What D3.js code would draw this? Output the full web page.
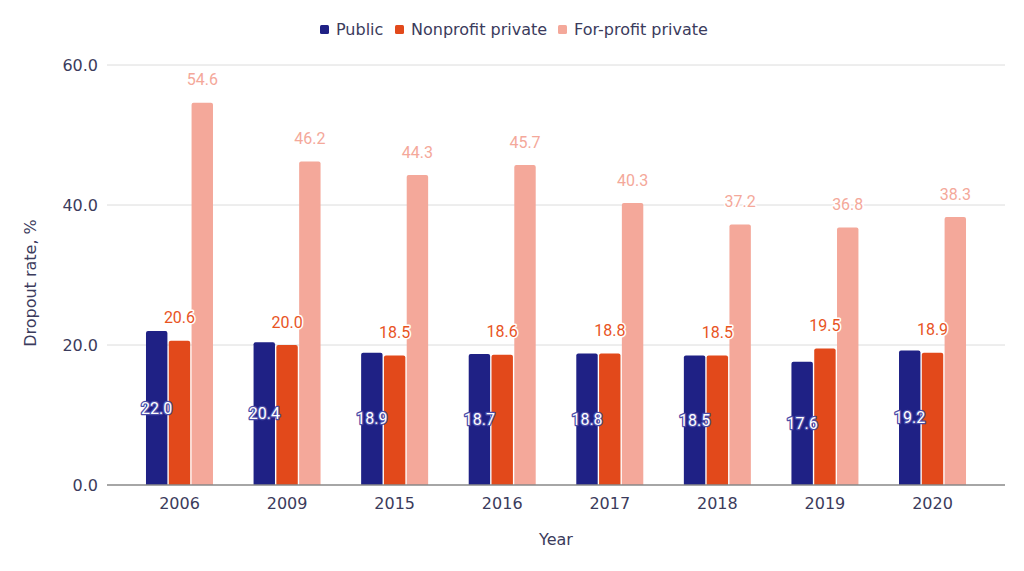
<!DOCTYPE html>
<html><head><meta charset="utf-8">
<script src="https://cdn.jsdelivr.net/npm/d3@7/dist/d3.min.js"></script>
<style>body{margin:0;background:#fff}svg{display:block}</style>
</head><body><svg id="c" width="1024" height="571"></svg>
<script>
const years = ["2006","2009","2015","2016","2017","2018","2019","2020"];
const publicVals = [22.0,20.4,18.9,18.7,18.8,18.5,17.6,19.2];
const nonprofitVals = [20.6,20.0,18.5,18.6,18.8,18.5,19.5,18.9];
const forprofitVals = [54.6,46.2,44.3,45.7,40.3,37.2,36.8,38.3];
const seriesNames = ["Public","Nonprofit private","For-profit private"];
const colors = ["#1f2185","#e2491b","#f4a89a"];
const yTicks = [0,20,40,60];

const svg = d3.select("#c");
const textCol = "#3b3b5c";
const axisFont = "DejaVu Sans, Verdana, sans-serif";
const x = d3.scaleBand().domain(years).range([125.7,986.3]);
const xs = d3.scaleBand().domain(seriesNames).range([0,67]).paddingInner(0.06);
const y = d3.scaleLinear().domain([0,60]).range([485,65]);
const plotL = 107, plotR = 1005;

// grid
svg.append("g").selectAll("line").data(yTicks.filter(d=>d>0)).join("line")
  .attr("x1",plotL).attr("x2",plotR).attr("y1",d=>y(d)).attr("y2",d=>y(d))
  .attr("stroke","#dcdcdc").attr("stroke-width",1);
svg.append("g").selectAll("text").data(yTicks).join("text")
  .attr("x",plotL-9).attr("y",d=>y(d)).attr("dy","0.35em").attr("text-anchor","end")
  .attr("font-family",axisFont).attr("font-size",16).attr("fill",textCol)
  .text(d=>d3.format(".1f")(d));

const data = [publicVals,nonprofitVals,forprofitVals];
const groups = svg.append("g").selectAll("g").data(years).join("g")
  .attr("transform",d=>`translate(${x(d)+(x.bandwidth()-67)/2},0)`);
groups.each(function(yr,i){
  const g = d3.select(this);
  seriesNames.forEach((s,k)=>{
    const v = data[k][i];
    g.append("path")
      .attr("d",()=>{const x0=xs(s),w=xs.bandwidth(),y0=y(v),y1=y(0),r=2;
        return `M${x0},${y1}V${y0+r}Q${x0},${y0} ${x0+r},${y0}H${x0+w-r}Q${x0+w},${y0} ${x0+w},${y0+r}V${y1}Z`;})
      .attr("fill",colors[k]);
  });
});
// axis line
svg.append("line").attr("x1",plotL).attr("x2",plotR).attr("y1",y(0)).attr("y2",y(0))
  .attr("stroke","#888").attr("stroke-width",1.5);
// x labels
svg.append("g").selectAll("text").data(years).join("text")
  .attr("x",d=>x(d)+x.bandwidth()/2).attr("y",503).attr("dy","0.35em").attr("text-anchor","middle")
  .attr("font-family",axisFont).attr("font-size",16).attr("fill",textCol).text(d=>d);

// value labels
groups.each(function(yr,i){
  const g = d3.select(this);
  const lf = "Roboto, sans-serif";
  const v0 = publicVals[i];
  const cx0 = xs(seriesNames[0])+xs.bandwidth()/2;
  g.append("text").attr("x",cx0).attr("y",(y(v0)+y(0))/2).attr("dy","0.35em").attr("text-anchor","middle")
    .attr("font-family",lf).attr("font-size",16).attr("fill","#fff").attr("stroke","#4a4ca8").attr("stroke-width",2.5)
    .attr("paint-order","stroke").attr("stroke-linejoin","round").text(d3.format(".1f")(v0));
  [1,2].forEach(k=>{
    const v = data[k][i];
    const cx = xs(seriesNames[k])+xs.bandwidth()/2;
    g.append("text").attr("x",cx).attr("y",y(v)-23).attr("dy","0.35em").attr("text-anchor","middle")
      .attr("font-family",lf).attr("font-size",16).attr("fill",k===1?"#e8541f":"#f4a89a")
      .attr("stroke","#fff").attr("stroke-width",3).attr("paint-order","stroke").attr("stroke-linejoin","round")
      .text(d3.format(".1f")(v));
  });
});

// axis titles
svg.append("text").attr("transform","translate(36,283) rotate(-90)").attr("text-anchor","middle")
  .attr("font-family",axisFont).attr("font-size",16).attr("fill",textCol).text("Dropout rate, %");
svg.append("text").attr("x",556).attr("y",539).attr("dy","0.35em").attr("text-anchor","middle")
  .attr("font-family",axisFont).attr("font-size",16).attr("fill",textCol).text("Year");

// legend
const legSq = [320,395,558];
const legTx = [336,411,574];
const leg = svg.append("g").selectAll("g").data(seriesNames).join("g");
leg.append("rect").attr("x",(d,i)=>legSq[i]).attr("y",25).attr("width",9).attr("height",9).attr("rx",1.5).attr("fill",(d,i)=>colors[i]);
leg.append("text").attr("x",(d,i)=>legTx[i]).attr("y",29.5).attr("dy","0.35em").attr("font-family",axisFont).attr("font-size",16)
  .attr("fill",textCol).text(d=>d);
</script></body></html>
